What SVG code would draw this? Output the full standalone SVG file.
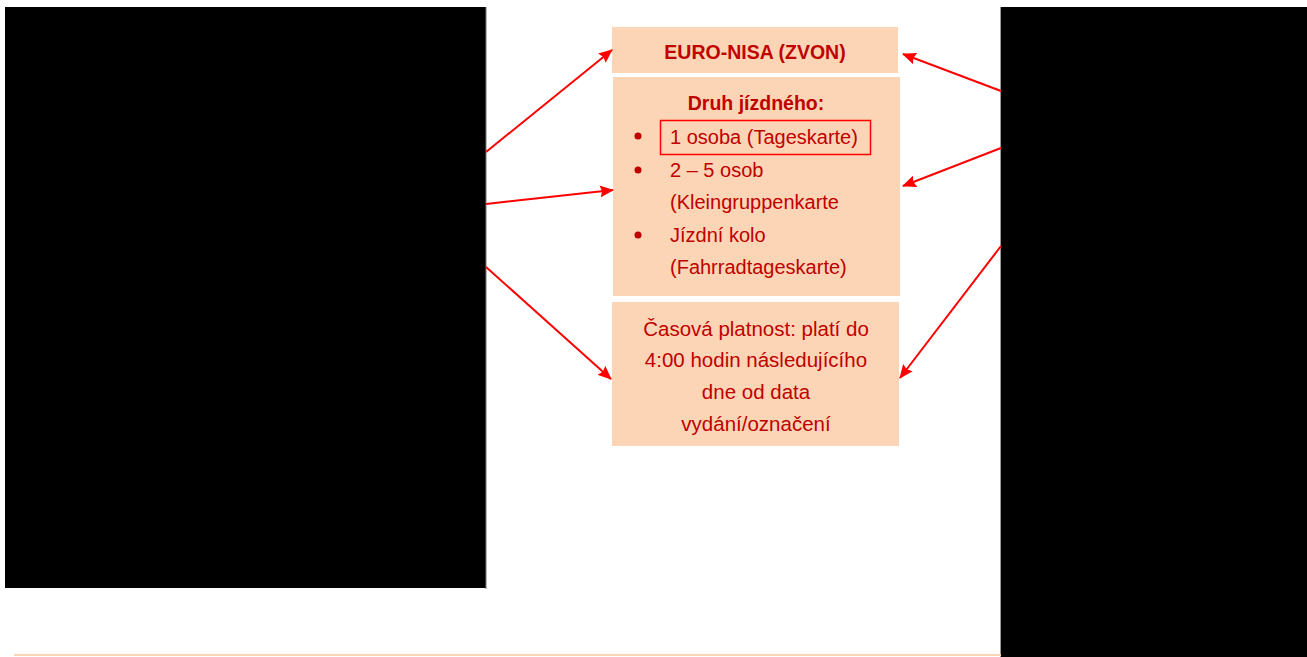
<svg xmlns="http://www.w3.org/2000/svg" width="1307" height="657" viewBox="0 0 1307 657">
<defs>
<marker id="ah" viewBox="0 0 14 12" refX="13" refY="6" markerWidth="14" markerHeight="12" markerUnits="userSpaceOnUse" orient="auto">
<path d="M0,0 L14,6 L0,12 L2,6 Z" fill="#FF0000"/>
</marker>
<style>
.box{fill:#FBD5B5;}
.t{font-family:"Liberation Sans",Arial,sans-serif;font-size:20px;fill:#C00000;}
.b{font-weight:bold;font-size:19.5px;}
.s{font-size:20.5px;}
.c{stroke:#FF0000;stroke-width:2;fill:none;marker-end:url(#ah);}
.blk{fill:#000;}
</style>
</defs>
<rect width="1307" height="657" fill="#fff"/>
<g id="left-image">
<rect class="blk" x="5" y="7" width="481" height="581"/>
<line x1="486" y1="7" x2="486" y2="589" stroke="#777" stroke-width="1"/>
</g>
<g id="right-image">
<rect class="blk" x="1001" y="7" width="306" height="650"/>
<line x1="1000.5" y1="7" x2="1000.5" y2="657" stroke="#999" stroke-width="1"/>
</g>
<line x1="14" y1="655" x2="1001" y2="655" stroke="#FBD5B5" stroke-width="2"/>
<g id="box-name">
<rect class="box" x="612" y="27" width="286" height="46"/>
<text class="t b" x="755" y="59" text-anchor="middle">EURO-NISA (ZVON)</text>
</g>
<g id="box-type">
<rect class="box" x="613" y="77" width="287" height="219"/>
<text class="t b" x="756" y="110" text-anchor="middle">Druh jízdného:</text>
<rect x="660.5" y="120.5" width="210" height="34" fill="none" stroke="#FF0000" stroke-width="1.5"/>
<circle cx="638" cy="136" r="3.5" fill="#C00000"/>
<text class="t" x="670" y="144">1 osoba (Tageskarte)</text>
<circle cx="638" cy="170" r="3.5" fill="#C00000"/>
<text class="t" x="670" y="177">2 – 5 osob</text>
<text class="t" x="670" y="209">(Kleingruppenkarte</text>
<circle cx="638" cy="235" r="3.5" fill="#C00000"/>
<text class="t" x="670" y="242">Jízdní kolo</text>
<text class="t" x="670" y="274">(Fahrradtageskarte)</text>
</g>
<g id="box-validity">
<rect class="box" x="612" y="302" width="287" height="144"/>
<text class="t s" x="756" y="336" text-anchor="middle">Časová platnost: platí do</text>
<text class="t s" x="756" y="367" text-anchor="middle">4:00 hodin následujícího</text>
<text class="t s" x="756" y="399" text-anchor="middle">dne od data</text>
<text class="t s" x="756" y="431" text-anchor="middle">vydání/označení</text>
</g>
<g id="connectors">
<line class="c" x1="486" y1="152" x2="612" y2="50"/>
<line class="c" x1="486" y1="204" x2="613" y2="190"/>
<line class="c" x1="486" y1="267" x2="611" y2="379"/>
<line class="c" x1="1001" y1="91" x2="903" y2="54"/>
<line class="c" x1="1001" y1="148" x2="903" y2="186"/>
<line class="c" x1="1001" y1="246" x2="900" y2="378"/>
</g>
</svg>
